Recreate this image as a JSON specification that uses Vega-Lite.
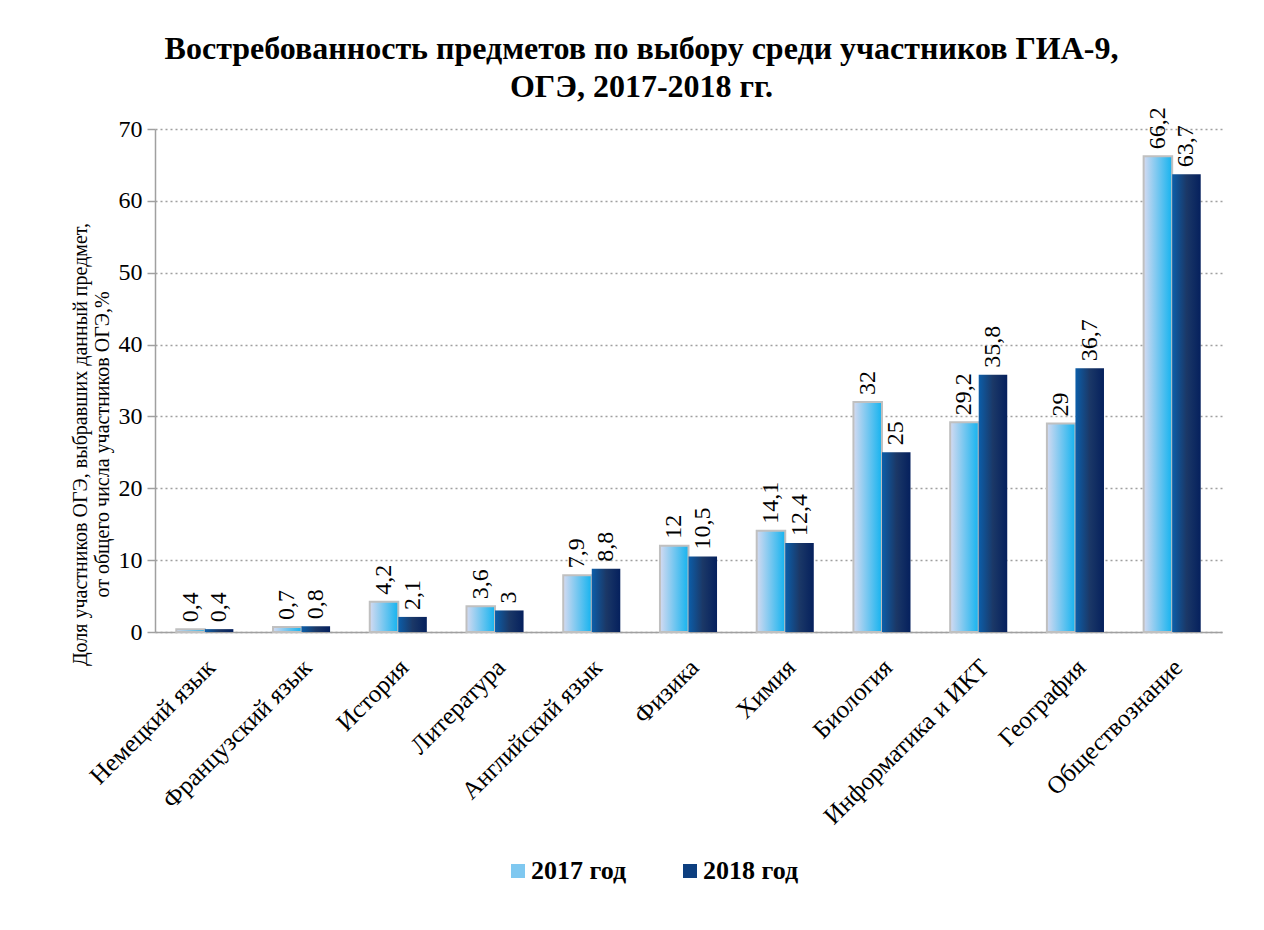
{
  "$schema": "https://vega.github.io/schema/vega-lite/v6.json",
  "width": 1067,
  "height": 503,
  "autosize": {"type": "none"},
  "padding": {"left": 155, "top": 129, "right": 42, "bottom": 298},
  "background": "white",
  "title": {
    "text": ["Востребованность предметов по выбору среди участников ГИА-9,", "ОГЭ, 2017-2018 гг."],
    "font": "Liberation Serif",
    "fontSize": 32,
    "fontWeight": "bold",
    "color": "#000000",
    "anchor": "middle",
    "frame": "group",
    "dx": -47,
    "offset": 3,
    "lineHeight": 38
  },
  "config": {
    "font": "Liberation Serif",
    "view": {"stroke": null},
    "text": {"font": "Liberation Serif"},
    "mark": {"font": "Liberation Serif"},
    "axis": {"labelFont": "Liberation Serif", "titleFont": "Liberation Serif", "labelColor": "#000000", "titleColor": "#000000"},
    "legend": {"labelFont": "Liberation Serif"}
  },
  "data": {
    "values": [
      {"subject": "Немецкий язык", "year": "2017 год", "value": 0.4, "label": "0,4"},
      {"subject": "Немецкий язык", "year": "2018 год", "value": 0.4, "label": "0,4"},
      {"subject": "Французский язык", "year": "2017 год", "value": 0.7, "label": "0,7"},
      {"subject": "Французский язык", "year": "2018 год", "value": 0.8, "label": "0,8"},
      {"subject": "История", "year": "2017 год", "value": 4.2, "label": "4,2"},
      {"subject": "История", "year": "2018 год", "value": 2.1, "label": "2,1"},
      {"subject": "Литература", "year": "2017 год", "value": 3.6, "label": "3,6"},
      {"subject": "Литература", "year": "2018 год", "value": 3, "label": "3"},
      {"subject": "Английский язык", "year": "2017 год", "value": 7.9, "label": "7,9"},
      {"subject": "Английский язык", "year": "2018 год", "value": 8.8, "label": "8,8"},
      {"subject": "Физика", "year": "2017 год", "value": 12, "label": "12"},
      {"subject": "Физика", "year": "2018 год", "value": 10.5, "label": "10,5"},
      {"subject": "Химия", "year": "2017 год", "value": 14.1, "label": "14,1"},
      {"subject": "Химия", "year": "2018 год", "value": 12.4, "label": "12,4"},
      {"subject": "Биология", "year": "2017 год", "value": 32, "label": "32"},
      {"subject": "Биология", "year": "2018 год", "value": 25, "label": "25"},
      {"subject": "Информатика и ИКТ", "year": "2017 год", "value": 29.2, "label": "29,2"},
      {"subject": "Информатика и ИКТ", "year": "2018 год", "value": 35.8, "label": "35,8"},
      {"subject": "География", "year": "2017 год", "value": 29, "label": "29"},
      {"subject": "География", "year": "2018 год", "value": 36.7, "label": "36,7"},
      {"subject": "Обществознание", "year": "2017 год", "value": 66.2, "label": "66,2"},
      {"subject": "Обществознание", "year": "2018 год", "value": 63.7, "label": "63,7"}
    ]
  },
  "encoding": {
    "x": {
      "field": "subject",
      "type": "nominal",
      "sort": null,
      "scale": {"paddingInner": 0.41, "paddingOuter": 0.22},
      "axis": {
        "title": null,
        "labelAngle": -45,
        "labelAlign": "right",
        "labelBaseline": "middle",
        "labelFontSize": 25,
        "labelOffset": 6,
        "labelPadding": 31,
        "labelLimit": 400,
        "ticks": false,
        "domainColor": "#a0a0a0",
        "domainWidth": 1.5,
        "grid": false
      }
    },
    "xOffset": {"field": "year", "type": "nominal", "scale": {"domain": ["2017 год", "2018 год"], "paddingInner": 0, "paddingOuter": 0}},
    "y": {
      "field": "value",
      "type": "quantitative",
      "scale": {"domain": [0, 70], "nice": false},
      "axis": {
        "values": [0, 10, 20, 30, 40, 50, 60, 70],
        "title": ["Доля участников  ОГЭ, выбравших данный предмет,", "от общего числа участников ОГЭ,%"],
        "titleFontSize": 20,
        "titleFontWeight": "normal",
        "titlePadding": 6,
        "titleLineHeight": 22,
        "titleY": 315,
        "labelFontSize": 24,
        "labelPadding": 5,
        "tickSize": 8,
        "tickColor": "#a0a0a0",
        "tickWidth": 1.5,
        "domainColor": "#a0a0a0",
        "domainWidth": 1.5,
        "grid": true,
        "gridColor": "#a0a0a0",
        "gridDash": [2, 3],
        "gridWidth": 1.5
      }
    }
  },
  "layer": [
    {
      "transform": [{"filter": "datum.year === '2017 год'"}],
      "mark": {
        "type": "bar",
        "stroke": "#c0c0c0",
        "strokeWidth": 2,
        "color": {"gradient": "linear", "x1": 0, "y1": 0, "x2": 1, "y2": 0, "stops": [{"offset": 0, "color": "#d4daf1"}, {"offset": 1, "color": "#14b3ef"}]}
      }
    },
    {
      "transform": [{"filter": "datum.year === '2018 год'"}],
      "mark": {
        "type": "bar",
        "color": {"gradient": "linear", "x1": 0, "y1": 0, "x2": 1, "y2": 0, "stops": [{"offset": 0, "color": "#0c5ea9"}, {"offset": 0.5, "color": "#1b3867"}, {"offset": 1, "color": "#05205d"}]}
      }
    },
    {
      "mark": {"type": "bar", "opacity": 0},
      "encoding": {
        "color": {
          "field": "year",
          "type": "nominal",
          "scale": {"domain": ["2017 год", "2018 год"], "range": ["#7fc8f0", "#0d3f7f"]},
          "legend": {
            "title": null,
            "orient": "none",
            "direction": "horizontal",
            "legendX": 350,
            "legendY": 729,
            "padding": 0,
            "symbolType": "square",
            "symbolSize": 196,
            "symbolOpacity": 1,
            "symbolStrokeWidth": 0,
            "labelFontSize": 26,
            "labelFontWeight": "bold",
            "labelColor": "#000000",
            "labelOffset": 0,
            "columnPadding": 50
          }
        }
      }
    },
    {
      "mark": {"type": "text", "angle": 270, "align": "left", "baseline": "middle", "dx": 7, "fontSize": 24, "font": "Liberation Serif", "fontStyle": "normal", "color": "#000000"},
      "encoding": {"text": {"field": "label", "type": "nominal"}}
    }
  ]
}
